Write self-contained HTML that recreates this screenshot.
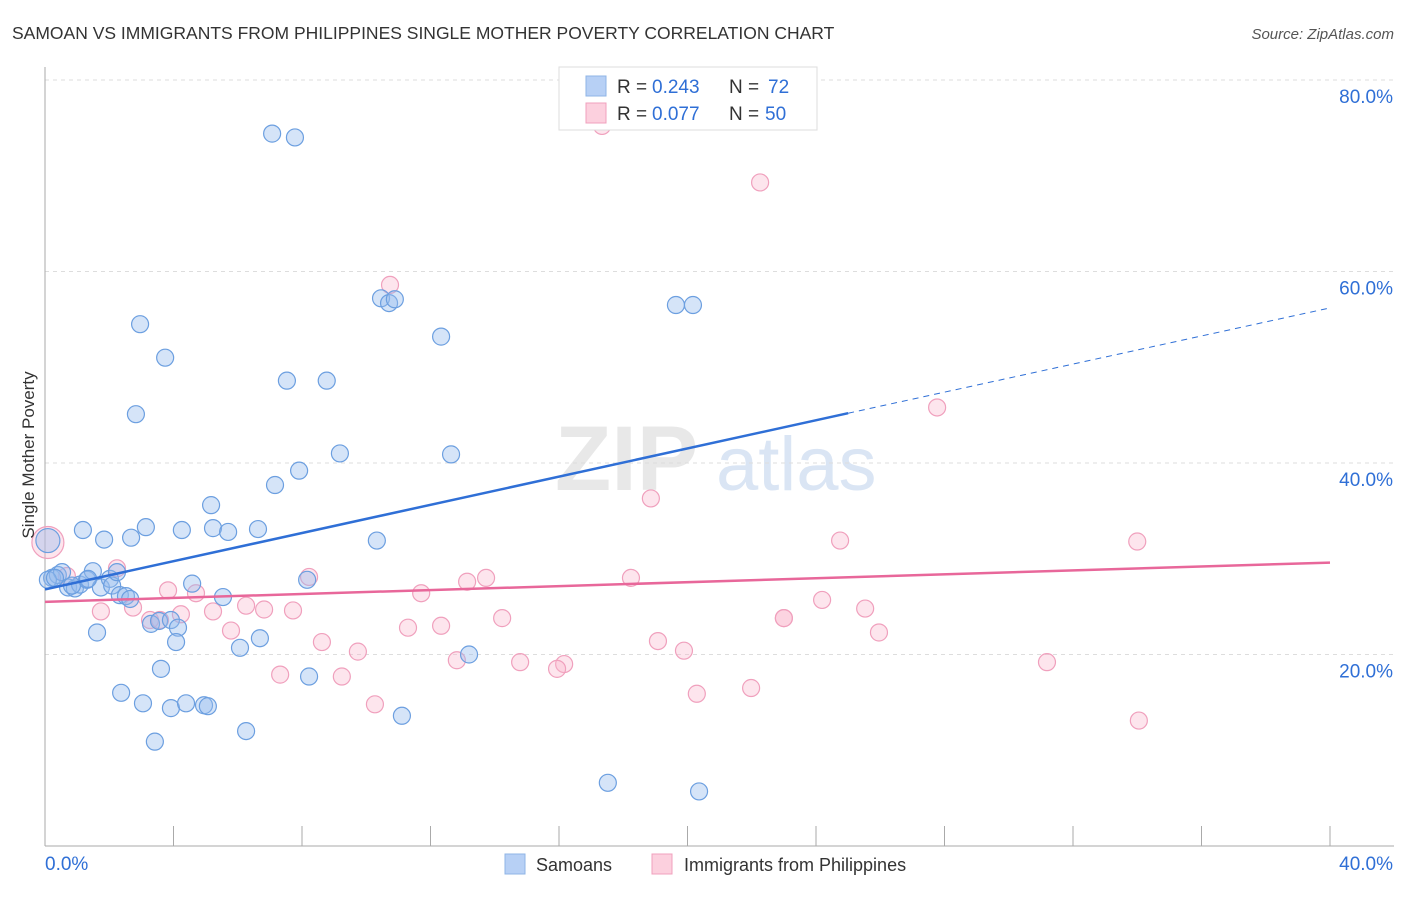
<!DOCTYPE html>
<html><head><meta charset="utf-8"><style>
body{margin:0;background:#fff;font-family:"Liberation Sans",sans-serif;}
svg text{font-family:"Liberation Sans",sans-serif;}
</style></head><body>
<svg id="chart" width="1406" height="892" xmlns="http://www.w3.org/2000/svg">
<text x="12" y="39" font-size="17.5" fill="#333">SAMOAN VS IMMIGRANTS FROM PHILIPPINES SINGLE MOTHER POVERTY CORRELATION CHART</text>
<text x="1394" y="39" font-size="15" fill="#555" font-style="italic" text-anchor="end">Source: ZipAtlas.com</text>
<g>
<text x="555" y="490" font-size="92" fill="#e8e8e8" font-family="Liberation Serif" font-weight="bold">ZIP</text>
<text x="716" y="490" font-size="76" fill="#dae5f4">atlas</text>
</g>
<g id="grid"></g>
<g id="axes"></g>
<g id="pink"></g>
<g id="blue"></g>
<g id="lines"></g>
<text transform="translate(34,455) rotate(-90)" font-size="17" fill="#333" text-anchor="middle">Single Mother Poverty</text>
<g>
<rect x="559" y="67" width="258" height="63" fill="#fff" stroke="#ddd"/>
<rect x="586" y="76" width="20" height="20" fill="#b7d0f5" stroke="#8fb4e6"/>
<rect x="586" y="103" width="20" height="20" fill="#fcd0de" stroke="#f0a0bd"/>
<text y="93" font-size="19" fill="#333"><tspan x="617">R =</tspan><tspan x="652" fill="#2f6fd6">0.243</tspan><tspan x="729">N =</tspan><tspan x="768" fill="#2f6fd6">72</tspan></text>
<text y="120" font-size="19" fill="#333"><tspan x="617">R =</tspan><tspan x="652" fill="#2f6fd6">0.077</tspan><tspan x="729">N =</tspan><tspan x="765" fill="#2f6fd6">50</tspan></text>
</g>
<g>
<rect x="505" y="854" width="20" height="20" fill="#b7d0f5" stroke="#8fb4e6"/>
<text x="536" y="871" font-size="18" fill="#333">Samoans</text>
<rect x="652" y="854" width="20" height="20" fill="#fcd0de" stroke="#f0a0bd"/>
<text x="684" y="871" font-size="18" fill="#333">Immigrants from Philippines</text>
</g>
</svg>
<script>
const yTicks=[20,40,60,80];
const yTickLabels=["20.0%","40.0%","60.0%","80.0%"];
const xTickLabels=["0.0%","40.0%"];
const blueX=[7.07,7.78,2.96,3.74,2.83,10.46,10.71,10.89,12.33,19.64,20.17,7.53,8.77,9.18,12.64,7.91,7.16,5.17,1.18,3.14,4.26,5.23,5.70,6.63,10.33,1.84,2.68,0.09,0.22,0.40,0.53,0.72,0.93,1.09,1.31,1.49,1.74,2.02,2.09,2.24,2.33,2.52,2.65,4.58,5.54,8.16,1.62,3.30,3.55,3.92,4.14,4.08,6.07,6.69,13.20,3.61,2.37,3.05,3.92,4.39,4.95,5.07,8.22,11.11,6.26,3.42,17.52,20.36,0.09,0.84,1.34,0.31];
const blueY=[74.4,74.0,54.5,51.0,45.1,57.2,56.7,57.1,53.2,56.5,56.5,48.6,48.6,41.0,40.9,39.2,37.7,35.6,33.0,33.3,33.0,33.2,32.8,33.1,31.9,32.0,32.2,31.9,28.0,28.3,28.6,27.0,26.9,27.3,27.8,28.7,27.0,27.9,27.2,28.6,26.2,26.1,25.8,27.4,26.0,27.8,22.3,23.2,23.5,23.6,22.8,21.3,20.7,21.7,20.0,18.5,16.0,14.9,14.4,14.9,14.7,14.6,17.7,13.6,12.0,10.9,6.6,5.7,27.8,27.2,27.9,28.0];
const pinkX=[17.34,22.26,10.74,27.77,18.86,24.75,34.00,0.09,0.68,2.24,8.22,13.73,13.14,18.24,11.71,3.83,4.70,1.74,2.74,4.23,5.23,6.26,6.82,7.72,5.79,3.27,11.30,12.33,14.23,19.08,23.00,23.00,24.19,25.53,25.96,8.62,9.74,12.82,14.79,16.16,15.94,19.89,7.32,9.24,10.27,20.29,21.98,31.19,34.05,3.58];
const pinkY=[75.2,69.3,58.6,45.8,36.3,31.9,31.8,31.7,28.2,29.0,28.1,28.0,27.6,28.0,26.4,26.7,26.4,24.5,24.9,24.2,24.5,25.1,24.7,24.6,22.5,23.6,22.8,23.0,23.8,21.4,23.8,23.8,25.7,24.8,22.3,21.3,20.3,19.4,19.2,19.0,18.5,20.4,17.9,17.7,14.8,15.9,16.5,19.2,13.1,23.6];
const blueTrend=[0,26.8,25,45.2];
const blueTrendDash=[25,45.2,40,56.2];
const pinkTrend=[0,25.5,40,29.6];
const X=v=>45+v*32.125, Y=v=>846-v*9.575;
const NS="http://www.w3.org/2000/svg";
function mk(t,a,p){const e=document.createElementNS(NS,t);for(const k in a)e.setAttribute(k,a[k]);p.appendChild(e);return e;}
const grid=document.getElementById('grid'),axes=document.getElementById('axes');
yTicks.forEach((t,i)=>{
 const l=mk('line',{x1:45,x2:1394,y1:Y(t),y2:Y(t),stroke:'#ddd','stroke-dasharray':'4,4'},grid);
 
 
 const tx=mk('text',{x:1393,y:Y(t)+23,'font-size':19,fill:'#2f6fd6','text-anchor':'end'},axes);
 tx.textContent=yTickLabels[i];
 
 
});
mk('line',{x1:45,x2:45,y1:67,y2:846,stroke:'#aaa'},axes);
mk('line',{x1:45,x2:1394,y1:846,y2:846,stroke:'#aaa'},axes);
for(let i=0;i<=10;i++){const t=mk('line',{x1:X(i*4),x2:X(i*4),y1:826,y2:846,stroke:'#aaa'},axes);
 
 }
const xl0=mk('text',{x:45,y:870,'font-size':19,fill:'#2f6fd6'},axes);xl0.textContent=xTickLabels[0];


const xl1=mk('text',{x:1393,y:870,'font-size':19,fill:'#2f6fd6','text-anchor':'end'},axes);xl1.textContent=xTickLabels[1];


const pg=document.getElementById('pink'),bg=document.getElementById('blue');
pinkX.forEach((x,i)=>{const c=mk('circle',{cx:X(x),cy:Y(pinkY[i]),r:i==7?16:8.5,fill:'rgba(248,180,202,0.35)',stroke:'#f0a0bd','stroke-width':1.2},pg);
 
 });
blueX.forEach((x,i)=>{const c=mk('circle',{cx:X(x),cy:Y(blueY[i]),r:i==27?12:8.5,fill:'rgba(150,188,238,0.4)',stroke:'#6c9fe0','stroke-width':1.2},bg);
 
 });
const lg=document.getElementById('lines');
const b=mk('line',{x1:X(blueTrend[0]),y1:Y(blueTrend[1]),x2:X(blueTrend[2]),y2:Y(blueTrend[3]),stroke:'#2f6fd6','stroke-width':2.5},lg);


const bd=mk('line',{x1:X(blueTrendDash[0]),y1:Y(blueTrendDash[1]),x2:X(blueTrendDash[2]),y2:Y(blueTrendDash[3]),stroke:'#2f6fd6','stroke-width':1,'stroke-dasharray':'6,5'},lg);


const p=mk('line',{x1:X(pinkTrend[0]),y1:Y(pinkTrend[1]),x2:X(pinkTrend[2]),y2:Y(pinkTrend[3]),stroke:'#e8679a','stroke-width':2.5},lg);


</script>
</body></html>
